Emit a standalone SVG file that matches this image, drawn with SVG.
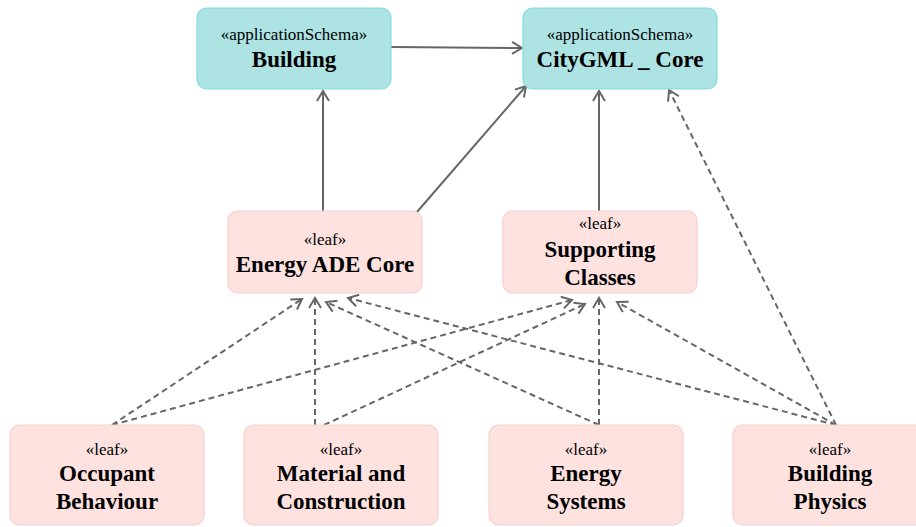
<svg xmlns="http://www.w3.org/2000/svg" width="916" height="527" viewBox="0 0 916 527">
<style>
.schema{fill:#aee3e3;stroke:#82dcdc;stroke-width:1.2}
.leaf{fill:#fde2e0;stroke:#f8cfcc;stroke-width:1.2}
.st{font-size:17px}
.nm{font-size:23px;font-weight:bold}
.solid{stroke:#666;stroke-width:2;fill:none;marker-end:url(#arr)}
.dash{stroke:#666;stroke-width:2;fill:none;stroke-dasharray:6,4;marker-end:url(#arr)}
</style>
<defs>
<marker id="arr" viewBox="-12 -7 14 14" markerWidth="14" markerHeight="14" refX="0" refY="0" orient="auto" markerUnits="userSpaceOnUse">
<path d="M-10,-6 L0,0 L-10,6" fill="none" stroke="#666" stroke-width="2"/>
</marker>
</defs>
<rect width="916" height="527" fill="#fff"/>
<g id="connectors">
<line class="solid" x1="391" y1="47" x2="522" y2="48"/>
<line class="solid" x1="323" y1="211" x2="323" y2="91"/>
<line class="solid" x1="417" y1="212" x2="526" y2="86"/>
<line class="solid" x1="599" y1="211" x2="599" y2="91"/>
<line class="dash" x1="836" y1="425" x2="669" y2="90"/>
<line class="dash" x1="112" y1="425" x2="302" y2="299"/>
<line class="dash" x1="315" y1="425" x2="315" y2="298"/>
<line class="dash" x1="599" y1="425" x2="326" y2="302"/>
<line class="dash" x1="836" y1="425" x2="348" y2="298"/>
<line class="dash" x1="112" y1="425" x2="572" y2="300"/>
<line class="dash" x1="324" y1="425" x2="585" y2="304"/>
<line class="dash" x1="599" y1="425" x2="599" y2="298"/>
<line class="dash" x1="836" y1="425" x2="617" y2="302"/>
</g>
<g font-family="'Liberation Serif', 'DejaVu Serif', serif" text-anchor="middle" fill="#000">
<g id="building">
<rect class="schema" x="197" y="8" width="194" height="81" rx="10"/>
<text class="st" x="294" y="40">«applicationSchema»</text>
<text class="nm" x="294" y="67">Building</text>
</g>
<g id="citygml-core">
<rect class="schema" x="523" y="8" width="194" height="81" rx="10"/>
<text class="st" x="620" y="40">«applicationSchema»</text>
<text class="nm" x="620" y="67">CityGML _ Core</text>
</g>
<g id="energy-ade-core">
<rect class="leaf" x="228" y="211" width="194" height="82" rx="10"/>
<text class="st" x="325" y="245">«leaf»</text>
<text class="nm" x="325" y="272">Energy ADE Core</text>
</g>
<g id="supporting-classes">
<rect class="leaf" x="503" y="211" width="194" height="82" rx="10"/>
<text class="st" x="600" y="229">«leaf»</text>
<text class="nm" x="600" y="257">Supporting</text>
<text class="nm" x="600" y="285">Classes</text>
</g>
<g id="occupant-behaviour">
<rect class="leaf" x="10" y="425" width="194" height="100" rx="10"/>
<text class="st" x="107" y="455">«leaf»</text>
<text class="nm" x="107" y="481">Occupant</text>
<text class="nm" x="107" y="509">Behaviour</text>
</g>
<g id="material-construction">
<rect class="leaf" x="244" y="425" width="194" height="100" rx="10"/>
<text class="st" x="341" y="455">«leaf»</text>
<text class="nm" x="341" y="481">Material and</text>
<text class="nm" x="341" y="509">Construction</text>
</g>
<g id="energy-systems">
<rect class="leaf" x="489" y="425" width="194" height="100" rx="10"/>
<text class="st" x="586" y="455">«leaf»</text>
<text class="nm" x="586" y="481">Energy</text>
<text class="nm" x="586" y="509">Systems</text>
</g>
<g id="building-physics">
<rect class="leaf" x="733" y="425" width="194" height="100" rx="10"/>
<text class="st" x="830" y="455">«leaf»</text>
<text class="nm" x="830" y="481">Building</text>
<text class="nm" x="830" y="509">Physics</text>
</g>
</g>
</svg>
